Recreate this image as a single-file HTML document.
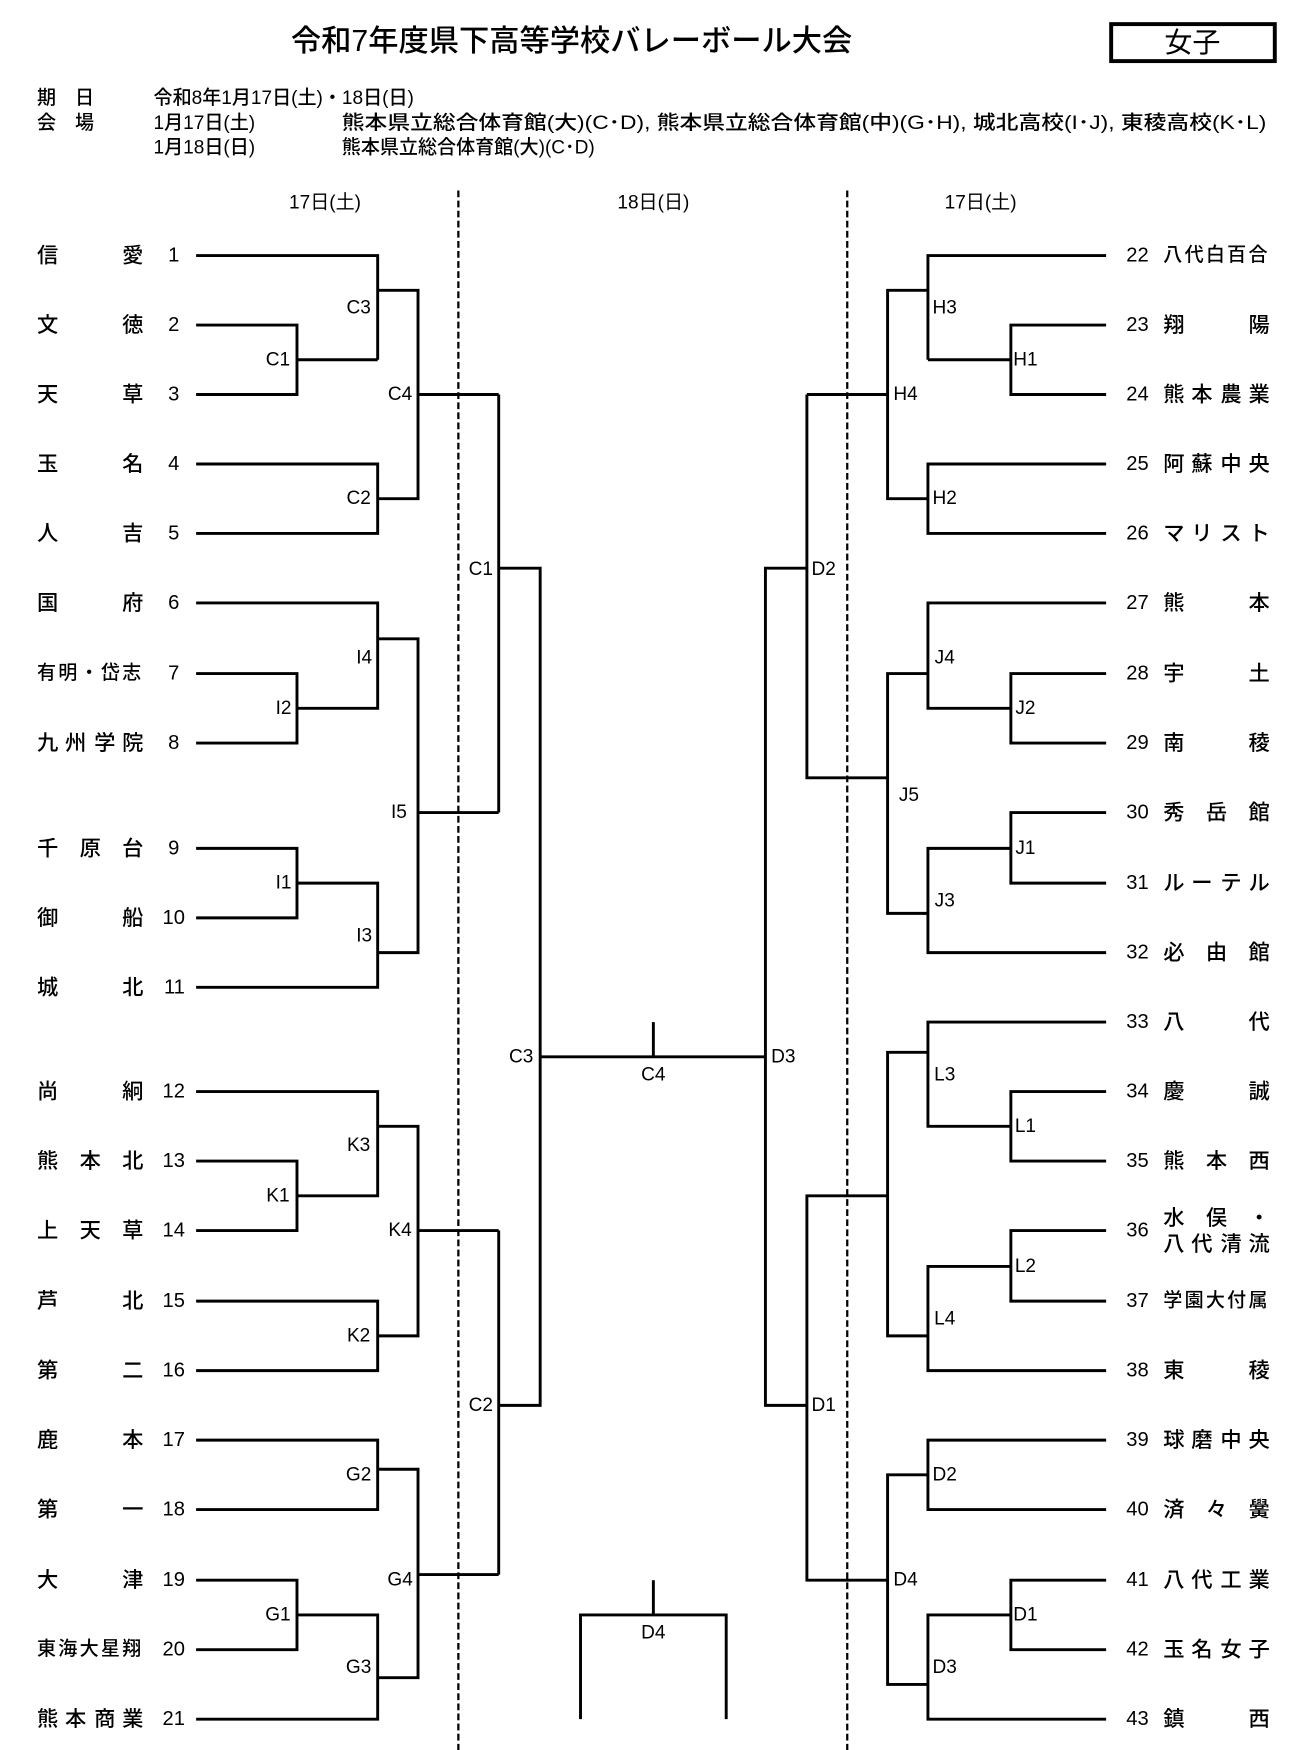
<!DOCTYPE html>
<html><head><meta charset="utf-8"><style>
html,body{margin:0;padding:0;background:#fff;}
svg{display:block;}
text{font-family:"Liberation Sans","Noto Sans CJK JP",sans-serif;fill:#000;}
.n{font-size:19px;dominant-baseline:central;font-weight:500;}
.s{font-size:17px;dominant-baseline:central;font-weight:500;}
.num{font-size:18px;dominant-baseline:central;}
.lb{font-size:17px;dominant-baseline:central;}
</style></head><body>
<svg width="1300" height="1750" viewBox="0 0 1160 1561.5" xmlns="http://www.w3.org/2000/svg">
<text x="510" y="37" font-size="27" text-anchor="middle" dominant-baseline="central" font-weight="500">令和7年度県下高等学校バレーボール大会</text>
<rect x="991.5" y="21.5" width="146" height="33" fill="none" stroke="#000" stroke-width="3.5"/>
<text x="1064" y="38" font-size="25" text-anchor="middle" dominant-baseline="central">女子</text>
<text x="33" y="88" class="s">期　日</text>
<text x="137" y="88" class="s">令和8年1月17日(土)・18日(日)</text>
<text x="33" y="110" class="s">会　場</text>
<text x="137" y="110" class="s">1月17日(土)</text>
<text x="305" y="110" class="s" textLength="825" lengthAdjust="spacingAndGlyphs">熊本県立総合体育館(大)(C･D), 熊本県立総合体育館(中)(G･H), 城北高校(I･J), 東稜高校(K･L)</text>
<text x="137" y="132" class="s">1月18日(日)</text>
<text x="305" y="132" class="s">熊本県立総合体育館(大)(C･D)</text>
<text x="290" y="181" class="lb" text-anchor="middle">17日(土)</text>
<text x="583" y="181" class="lb" text-anchor="middle">18日(日)</text>
<text x="875" y="181" class="lb" text-anchor="middle">17日(土)</text>
<g stroke="#000" stroke-width="2" stroke-dasharray="6,3">
<line x1="409" y1="170" x2="409" y2="1565"/><line x1="756" y1="170" x2="756" y2="1565"/>
</g>
<g>
<text x="33 109" y="228" class="n">信愛</text><text x="160" y="228" class="num" text-anchor="end">1</text>
<text x="33 109" y="290" class="n">文徳</text><text x="160" y="290" class="num" text-anchor="end">2</text>
<text x="33 109" y="352" class="n">天草</text><text x="160" y="352" class="num" text-anchor="end">3</text>
<text x="33 109" y="414" class="n">玉名</text><text x="160" y="414" class="num" text-anchor="end">4</text>
<text x="33 109" y="476" class="n">人吉</text><text x="160" y="476" class="num" text-anchor="end">5</text>
<text x="33 109" y="538" class="n">国府</text><text x="160" y="538" class="num" text-anchor="end">6</text>
<text x="33 52 71 90 109" y="601" class="s">有明・岱志</text><text x="160" y="601" class="num" text-anchor="end">7</text>
<text x="33 58 84 109" y="663" class="n">九州学院</text><text x="160" y="663" class="num" text-anchor="end">8</text>
<text x="33 71 109" y="757" class="n">千原台</text><text x="160" y="757" class="num" text-anchor="end">9</text>
<text x="33 109" y="819" class="n">御船</text><text x="165" y="819" class="num" text-anchor="end">10</text>
<text x="33 109" y="881" class="n">城北</text><text x="165" y="881" class="num" text-anchor="end">11</text>
<text x="33 109" y="974" class="n">尚絅</text><text x="165" y="974" class="num" text-anchor="end">12</text>
<text x="33 71 109" y="1036" class="n">熊本北</text><text x="165" y="1036" class="num" text-anchor="end">13</text>
<text x="33 71 109" y="1098" class="n">上天草</text><text x="165" y="1098" class="num" text-anchor="end">14</text>
<text x="33 109" y="1161" class="n">芦北</text><text x="165" y="1161" class="num" text-anchor="end">15</text>
<text x="33 109" y="1223" class="n">第二</text><text x="165" y="1223" class="num" text-anchor="end">16</text>
<text x="33 109" y="1285" class="n">鹿本</text><text x="165" y="1285" class="num" text-anchor="end">17</text>
<text x="33 109" y="1347" class="n">第一</text><text x="165" y="1347" class="num" text-anchor="end">18</text>
<text x="33 109" y="1410" class="n">大津</text><text x="165" y="1410" class="num" text-anchor="end">19</text>
<text x="33 52 71 90 109" y="1472" class="s">東海大星翔</text><text x="165" y="1472" class="num" text-anchor="end">20</text>
<text x="33 58 84 109" y="1534" class="n">熊本商業</text><text x="165" y="1534" class="num" text-anchor="end">21</text>
</g>
<g>
<text x="1025" y="228" class="num" text-anchor="end">22</text><text x="1038 1057 1076 1095 1114" y="228" class="s">八代白百合</text>
<text x="1025" y="290" class="num" text-anchor="end">23</text><text x="1038 1114" y="290" class="n">翔陽</text>
<text x="1025" y="352" class="num" text-anchor="end">24</text><text x="1038 1063 1089 1114" y="352" class="n">熊本農業</text>
<text x="1025" y="414" class="num" text-anchor="end">25</text><text x="1038 1063 1089 1114" y="414" class="n">阿蘇中央</text>
<text x="1025" y="476" class="num" text-anchor="end">26</text><text x="1038 1063 1089 1114" y="476" class="n">マリスト</text>
<text x="1025" y="538" class="num" text-anchor="end">27</text><text x="1038 1114" y="538" class="n">熊本</text>
<text x="1025" y="601" class="num" text-anchor="end">28</text><text x="1038 1114" y="601" class="n">宇土</text>
<text x="1025" y="663" class="num" text-anchor="end">29</text><text x="1038 1114" y="663" class="n">南稜</text>
<text x="1025" y="725" class="num" text-anchor="end">30</text><text x="1038 1076 1114" y="725" class="n">秀岳館</text>
<text x="1025" y="788" class="num" text-anchor="end">31</text><text x="1038 1063 1089 1114" y="788" class="n">ルーテル</text>
<text x="1025" y="850" class="num" text-anchor="end">32</text><text x="1038 1076 1114" y="850" class="n">必由館</text>
<text x="1025" y="912" class="num" text-anchor="end">33</text><text x="1038 1114" y="912" class="n">八代</text>
<text x="1025" y="974" class="num" text-anchor="end">34</text><text x="1038 1114" y="974" class="n">慶誠</text>
<text x="1025" y="1036" class="num" text-anchor="end">35</text><text x="1038 1076 1114" y="1036" class="n">熊本西</text>
<text x="1025" y="1098" class="num" text-anchor="end">36</text><text x="1038 1076 1114" y="1087" class="n">水俣・</text><text x="1038 1063 1089 1114" y="1110" class="n">八代清流</text>
<text x="1025" y="1161" class="num" text-anchor="end">37</text><text x="1038 1057 1076 1095 1114" y="1161" class="s">学園大付属</text>
<text x="1025" y="1223" class="num" text-anchor="end">38</text><text x="1038 1114" y="1223" class="n">東稜</text>
<text x="1025" y="1285" class="num" text-anchor="end">39</text><text x="1038 1063 1089 1114" y="1285" class="n">球磨中央</text>
<text x="1025" y="1347" class="num" text-anchor="end">40</text><text x="1038 1076 1114" y="1347" class="n">済々黌</text>
<text x="1025" y="1410" class="num" text-anchor="end">41</text><text x="1038 1063 1089 1114" y="1410" class="n">八代工業</text>
<text x="1025" y="1472" class="num" text-anchor="end">42</text><text x="1038 1063 1089 1114" y="1472" class="n">玉名女子</text>
<text x="1025" y="1534" class="num" text-anchor="end">43</text><text x="1038 1114" y="1534" class="n">鎮西</text>
</g>
<g fill="none" stroke="#000" stroke-width="2.6">
<polyline points="175,228 337,228 337,321"/>
<polyline points="175,290 265,290 265,352 175,352"/><line x1="265" y1="321" x2="337" y2="321"/>
<polyline points="337,259 373,259 373,445 337,445"/>
<polyline points="175,414 337,414 337,476 175,476"/>
<line x1="373" y1="352" x2="445" y2="352"/>
<polyline points="175,538 337,538 337,632 265,632"/>
<polyline points="175,601 265,601 265,663 175,663"/>
<polyline points="337,570 373,570 373,850 337,850"/>
<polyline points="175,757 265,757 265,819 175,819"/>
<polyline points="265,788 337,788 337,881 175,881"/>
<line x1="373" y1="725" x2="445" y2="725"/>
<polyline points="445,352 445,725"/>
<polyline points="445,507 482,507 482,1254 445,1254"/>
<polyline points="175,974 337,974 337,1067 265,1067"/>
<polyline points="175,1036 265,1036 265,1098 175,1098"/>
<polyline points="337,1005 373,1005 373,1192 337,1192"/>
<polyline points="175,1161 337,1161 337,1223 175,1223"/>
<line x1="373" y1="1098" x2="445" y2="1098"/>
<polyline points="445,1098 445,1405"/>
<polyline points="175,1285 337,1285 337,1347 175,1347"/>
<polyline points="337,1311 373,1311 373,1497 337,1497"/>
<polyline points="175,1410 265,1410 265,1472 175,1472"/>
<polyline points="265,1441 337,1441 337,1534 175,1534"/>
<line x1="373" y1="1405" x2="445" y2="1405"/>
<line x1="482" y1="943" x2="683" y2="943"/>
<line x1="583" y1="912" x2="583" y2="943"/>
<polyline points="518,1534 518,1441 648,1441 648,1534"/>
<line x1="583" y1="1410" x2="583" y2="1441"/>
<polyline points="720,507 683,507 683,1254 720,1254"/>
<polyline points="987,228 828,228 828,321"/>
<polyline points="987,290 902,290 902,352 987,352"/><line x1="902" y1="321" x2="828" y2="321"/>
<polyline points="828,259 792,259 792,445 828,445"/>
<polyline points="987,414 828,414 828,476 987,476"/>
<line x1="792" y1="352" x2="720" y2="352"/>
<polyline points="720,352 720,694 792,694"/>
<polyline points="987,538 828,538 828,632 902,632"/>
<polyline points="987,601 902,601 902,663 987,663"/>
<polyline points="828,601 792,601 792,815 828,815"/>
<polyline points="987,725 902,725 902,788 987,788"/>
<polyline points="902,757 828,757 828,850 987,850"/>
<polyline points="987,912 828,912 828,1005 902,1005"/>
<polyline points="987,974 902,974 902,1036 987,1036"/>
<polyline points="828,939 792,939 792,1192 828,1192"/>
<polyline points="987,1098 902,1098 902,1161 987,1161"/>
<polyline points="902,1130 828,1130 828,1223 987,1223"/>
<polyline points="792,1067 720,1067 720,1410 792,1410"/>
<polyline points="987,1285 828,1285 828,1347 987,1347"/>
<polyline points="828,1316 792,1316 792,1503 828,1503"/>
<polyline points="987,1410 902,1410 902,1472 987,1472"/>
<polyline points="902,1441 828,1441 828,1534 987,1534"/>
</g>
<g>
<text x="248" y="321" class="lb" text-anchor="middle">C1</text>
<text x="320" y="275" class="lb" text-anchor="middle">C3</text>
<text x="320" y="445" class="lb" text-anchor="middle">C2</text>
<text x="357" y="352" class="lb" text-anchor="middle">C4</text>
<text x="253" y="632" class="lb" text-anchor="middle">I2</text>
<text x="325" y="587" class="lb" text-anchor="middle">I4</text>
<text x="253" y="788" class="lb" text-anchor="middle">I1</text>
<text x="325" y="835" class="lb" text-anchor="middle">I3</text>
<text x="356" y="725" class="lb" text-anchor="middle">I5</text>
<text x="429" y="508" class="lb" text-anchor="middle">C1</text>
<text x="248" y="1067" class="lb" text-anchor="middle">K1</text>
<text x="320" y="1022" class="lb" text-anchor="middle">K3</text>
<text x="320" y="1192" class="lb" text-anchor="middle">K2</text>
<text x="357" y="1098" class="lb" text-anchor="middle">K4</text>
<text x="320" y="1316" class="lb" text-anchor="middle">G2</text>
<text x="248" y="1441" class="lb" text-anchor="middle">G1</text>
<text x="320" y="1488" class="lb" text-anchor="middle">G3</text>
<text x="357" y="1410" class="lb" text-anchor="middle">G4</text>
<text x="429" y="1254" class="lb" text-anchor="middle">C2</text>
<text x="465" y="943" class="lb" text-anchor="middle">C3</text>
<text x="583" y="959" class="lb" text-anchor="middle">C4</text>
<text x="583" y="1457" class="lb" text-anchor="middle">D4</text>
<text x="699" y="943" class="lb" text-anchor="middle">D3</text>
<text x="735" y="508" class="lb" text-anchor="middle">D2</text>
<text x="735" y="1254" class="lb" text-anchor="middle">D1</text>
<text x="808" y="352" class="lb" text-anchor="middle">H4</text>
<text x="843" y="275" class="lb" text-anchor="middle">H3</text>
<text x="843" y="445" class="lb" text-anchor="middle">H2</text>
<text x="915" y="321" class="lb" text-anchor="middle">H1</text>
<text x="843" y="587" class="lb" text-anchor="middle">J4</text>
<text x="915" y="632" class="lb" text-anchor="middle">J2</text>
<text x="915" y="757" class="lb" text-anchor="middle">J1</text>
<text x="843" y="804" class="lb" text-anchor="middle">J3</text>
<text x="811" y="710" class="lb" text-anchor="middle">J5</text>
<text x="843" y="959" class="lb" text-anchor="middle">L3</text>
<text x="915" y="1005" class="lb" text-anchor="middle">L1</text>
<text x="915" y="1130" class="lb" text-anchor="middle">L2</text>
<text x="843" y="1177" class="lb" text-anchor="middle">L4</text>
<text x="843" y="1316" class="lb" text-anchor="middle">D2</text>
<text x="915" y="1441" class="lb" text-anchor="middle">D1</text>
<text x="843" y="1488" class="lb" text-anchor="middle">D3</text>
<text x="808" y="1410" class="lb" text-anchor="middle">D4</text>
</g>
</svg>
</body></html>
